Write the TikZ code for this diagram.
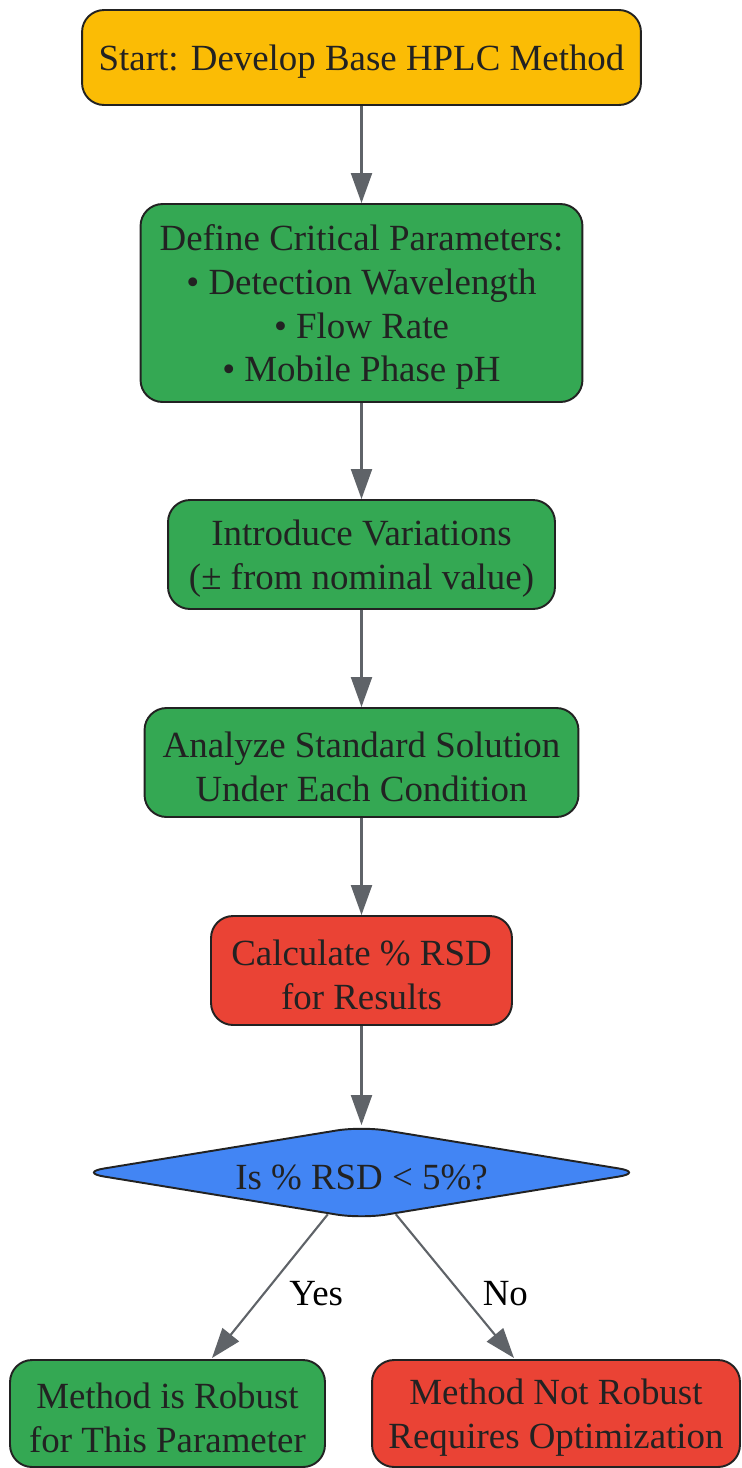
\documentclass[tikz,border=0pt]{standalone}
\usepackage{fontspec}
\setmainfont{Liberation Serif}
\usepackage{tikz}
\usepackage{xcolor}
\usetikzlibrary{arrows.meta, positioning, shapes.geometric}

\definecolor{ink}{HTML}{222222}
\definecolor{edgegray}{HTML}{5F6368}
\definecolor{gyellow}{HTML}{FBBC05}
\definecolor{ggreen}{HTML}{34A853}
\definecolor{gred}{HTML}{EA4335}
\definecolor{gblue}{HTML}{4285F4}

% strut on the first line, so the text sits a little lower in its box
\newcommand{\lift}{\rule{0pt}{0.68cm}}

\begin{document}
\begin{tikzpicture}[x=0.02cm, y=-0.02cm,
    box/.style={draw=ink, line width=1.1pt, rounded corners=0.44cm, align=center, text=ink,
        inner sep=0pt, font=\fontsize{21}{25}\selectfont},
    decision/.style={diamond, aspect=6, draw=ink, line width=1.1pt, rounded corners=0.5cm,
        text=ink, inner sep=0pt, font=\fontsize{21}{25}\selectfont},
    flow/.style={draw=edgegray, line width=1.2pt, -{Triangle[length=0.6cm, width=0.42cm]}},
    answer/.style={font=\fontsize{21}{25}\selectfont, text=black, yshift=-0.14cm}]

        \useasboundingbox (0,0) rectangle (741,1468);

        \node[box, fill=gyellow, minimum width=11.18cm, minimum height=1.9cm] (start) at (361.5,57.5)
            {\lift Start: Develop Base HPLC Method};
        \node[box, fill=ggreen, minimum width=8.84cm, minimum height=3.96cm] (params) at (361.5,303)
            {\lift Define Critical Parameters:\\ • Detection Wavelength\\ • Flow Rate\\ • Mobile Phase pH};
        \node[box, fill=ggreen, minimum width=7.74cm, minimum height=2.18cm] (vary) at (361.5,554.5)
            {\lift Introduce Variations\\ (± from nominal value)};
        \node[box, fill=ggreen, minimum width=8.68cm, minimum height=2.18cm] (analyze) at (361.5,762.5)
            {\lift Analyze Standard Solution\\ Under Each Condition};
        \node[box, fill=gred, minimum width=6.02cm, minimum height=2.18cm] (rsd) at (361.5,970.5)
            {\lift Calculate \% RSD\\ for Results};
        \node[decision, fill=gblue, minimum width=11.3cm, minimum height=1.86cm] (check) at (361.5,1172.5)
            {\lift Is \% RSD < 5\%?};
        \node[box, fill=ggreen, minimum width=6.3cm, minimum height=2.14cm] (robust) at (167.5,1413.5)
            {\lift Method is Robust\\ for This Parameter};
        \node[box, fill=gred, minimum width=7.36cm, minimum height=2.14cm] (notrobust) at (556,1413.5)
            {\lift Method Not Robust\\ Requires Optimization};

        \coordinate (yesend) at (212,1358);
        \coordinate (noend) at (514,1358);

        \foreach \from/\to in
        {start/params,params/vary,vary/analyze,analyze/rsd,rsd/check} \draw[flow] (\from)--(\to);
        \draw[flow] (check) -- node[answer, right=0.25cm] {Yes} (yesend);
        \draw[flow] (check) -- node[answer, right=0.42cm] {No} (noend);
        \end{tikzpicture}
\end{document}
